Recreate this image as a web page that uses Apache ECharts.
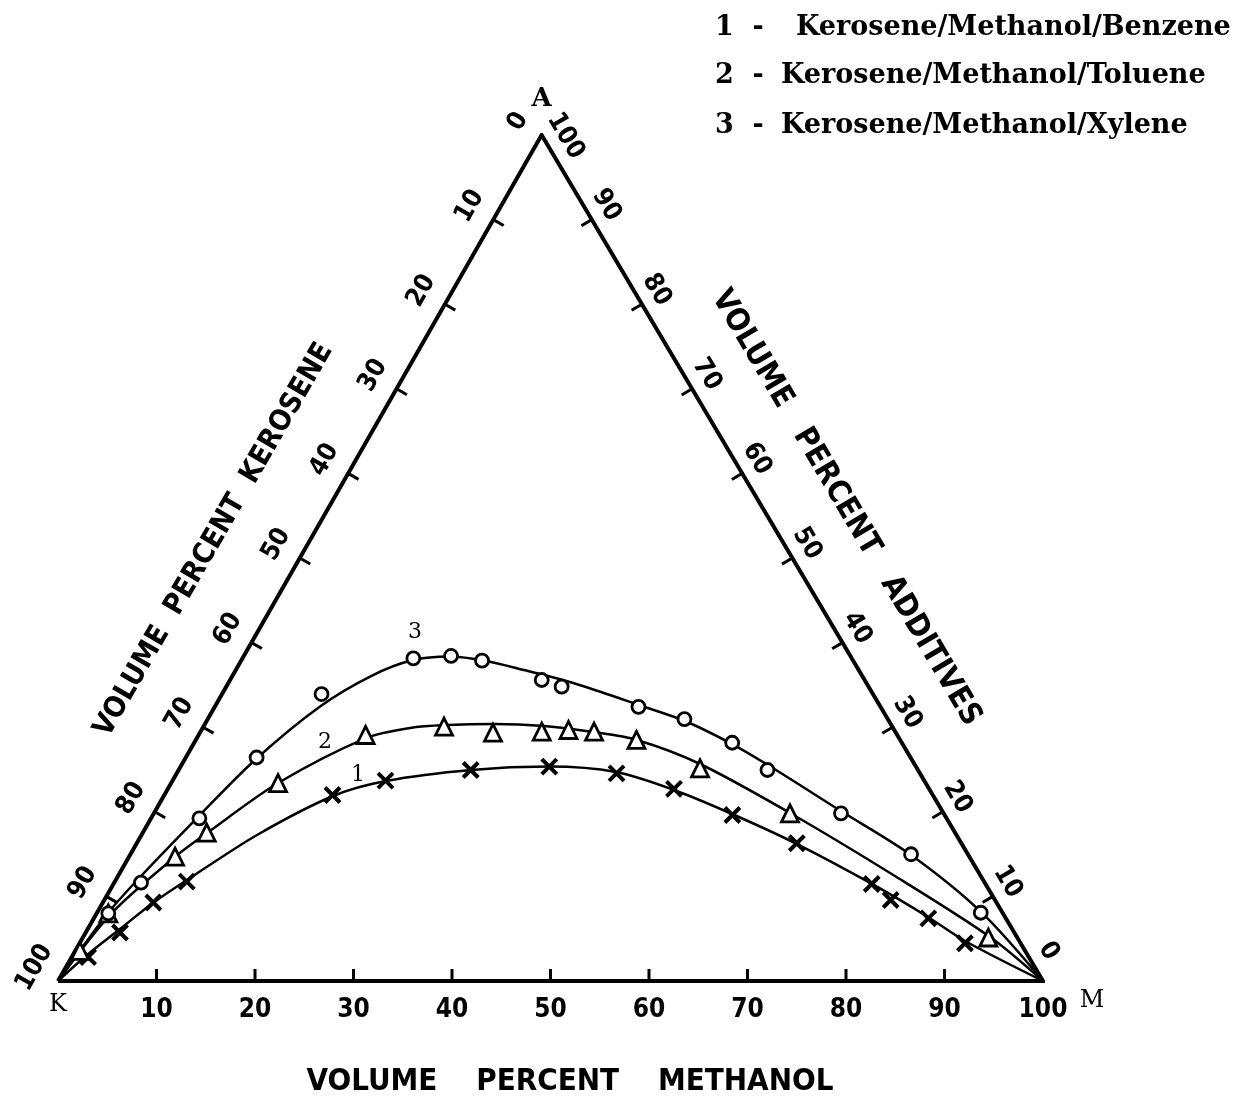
<!DOCTYPE html>
<html><head><meta charset="utf-8">
<script src="https://cdn.jsdelivr.net/npm/echarts@6/dist/echarts.min.js"></script>
<style>html,body{margin:0;padding:0;background:#fff}#chart{width:1250px;height:1111px}</style>
</head><body><div id="chart"></div>
<script>
// ---------- DATA (ternary compositions: [methanol %, additives %], kerosene = 100 - m - a) ----------
const seriesNames = ['Kerosene/Methanol/Benzene', 'Kerosene/Methanol/Toluene', 'Kerosene/Methanol/Xylene'];
const seriesNumbers = ['1', '2', '3'];

// measured points (markers)
const benzenePoints = [[1.66,2.84],[3.48,5.73],[5.12,9.28],[7.31,11.74],[17.07,21.99],[21.62,23.68],[29.66,24.94],[37.44,25.33],[44.65,24.55],[51.39,22.70],[58.83,19.62],[67.01,16.28],[76.98,11.47],[79.84,9.57],[84.72,7.41],[89.89,4.46]];
const toluenePoints = [[0.49,3.55],[1.18,8.0],[4.67,14.69],[6.49,17.53],[10.85,23.40],[16.95,29.08],[24.43,30.06],[29.75,29.35],[34.64,29.47],[37.26,29.67],[39.95,29.47],[44.74,28.49],[52.84,25.14],[64.58,19.82],[91.93,5.14]];
const xylenePoints = [[1.18,8.0],[2.72,11.62],[4.91,19.23],[7.19,26.42],[10.10,33.92],[17.35,38.14],[21.04,38.42],[24.46,37.86],[31.64,35.58],[34.05,34.79],[43.02,32.41],[48.40,30.95],[54.62,28.16],[59.78,24.94],[69.76,19.82],[79.25,14.98],[89.72,8.07]];

// binodal curves as drawn
const benzeneCurve = [[0,0],[1.43,3.07],[3.27,6.15],[5.11,9.22],[7.24,11.94],[11.73,17.26],[17.18,21.87],[21.69,23.64],[29.68,24.94],[37.40,25.35],[44.52,24.70],[51.45,22.58],[58.74,19.74],[67.08,16.19],[77.01,11.47],[84.60,7.57],[89.76,4.73],[100,0]];
const tolueneCurve = [[0,0],[1.53,8.04],[4.68,14.66],[6.54,17.49],[10.85,23.40],[17.17,28.72],[21.05,29.91],[24.73,30.26],[29.34,30.38],[34.54,30.14],[39.86,29.43],[44.79,28.49],[52.59,25.65],[64.56,19.86],[78.65,12.53],[92.07,5.20],[100,0]];
const xyleneCurve = [[0,0],[1.13,8.04],[2.34,12.41],[4.73,19.50],[7.22,26.24],[10.67,32.45],[14.08,36.05],[17.41,37.94],[20.97,38.36],[24.88,37.83],[29.26,36.76],[33.80,35.58],[38.36,34.16],[42.96,32.62],[48.56,30.73],[54.68,28.01],[59.54,25.53],[69.62,20.09],[79.29,14.89],[89.70,8.16],[100,0]];

// curve number labels (composition where the number sits)
const curveLabelPos = [[18.5,24.35],[13.24,28.25],[15.99,41.25]];

// axis ticks and tick labels
const tickValues = [10,20,30,40,50,60,70,80,90];
const bottomLabels = [10,20,30,40,50,60,70,80,90,100];
const sideLabels = [0,10,20,30,40,50,60,70,80,90,100];
const vertexNames = ['K','M','A'];
const axisTitles = ['VOLUME    PERCENT    METHANOL', 'VOLUME  PERCENT  KEROSENE', 'VOLUME   PERCENT   ADDITIVES'];

// ---------- LAYOUT ----------
const SKEW = 0.491;           // horizontal position of apex A as a fraction of the base
const TICK_LEN = 12;
const digitFont = 'bold 26px "DejaVu Sans Condensed", "Liberation Sans Narrow", "DejaVu Sans", sans-serif';
const titleFont = 'bold 31px "DejaVu Sans Condensed", "Liberation Sans Narrow", "DejaVu Sans", sans-serif';
const titleFontSmall = 'bold 29px "DejaVu Sans Condensed", "Liberation Sans Narrow", "DejaVu Sans", sans-serif';
const serifFont = 'bold 27px "DejaVu Serif", "Liberation Serif", serif';

function toXY(p){ return [p[0] + SKEW*p[1], p[1]]; }
// label offset [outward, toward A] per edge
function labelOffset(edge, text){
  if (edge === 0) return [29, 0];
  if (edge === 1) return [27, 0];
  return [20, 5 - (text.length - 2) * 18];
}

const tickData = [];
for (let e = 0; e < 3; e++) tickValues.forEach(v => tickData.push([e, v, 0]));
bottomLabels.forEach(v => tickData.push([0, v, 1]));
sideLabels.forEach(v => tickData.push([1, v, 1]));
sideLabels.forEach(v => tickData.push([2, v, 1]));

function renderTick(params, api){
  const edge = api.value(0), v = api.value(1), kind = api.value(2);
  const tern = edge === 0 ? [v,0] : edge === 1 ? [0,100-v] : [100-v, v];
  const p = api.coord(toXY(tern));
  const K = api.coord(toXY([0,0])), M = api.coord(toXY([100,0])), A = api.coord(toXY([0,100]));
  let s, t;
  if (edge === 0) { s = K; t = M; } else if (edge === 1) { s = K; t = A; } else { s = M; t = A; }
  let dx = t[0]-s[0], dy = t[1]-s[1];
  const L = Math.hypot(dx, dy); dx /= L; dy /= L;
  let nx = -dy, ny = dx;
  const cx = (K[0]+M[0]+A[0])/3, cy = (K[1]+M[1]+A[1])/3;
  if ((cx-p[0])*nx + (cy-p[1])*ny < 0) { nx = -nx; ny = -ny; }
  if (kind === 0) {
    return { type:'line', shape:{ x1:p[0], y1:p[1], x2:p[0]+nx*TICK_LEN, y2:p[1]+ny*TICK_LEN },
             style:{ stroke:'#000', lineWidth:3 } };
  }
  const text = String(v);
  const off = labelOffset(edge, text);
  const lx = p[0] - nx*off[0] + (edge === 0 ? 0 : dx*off[1]);
  const ly = p[1] - ny*off[0] + (edge === 0 ? 0 : dy*off[1]);
  let rot = 0;
  if (edge === 1) rot = Math.atan2(-dy, dx);
  if (edge === 2) rot = Math.atan2(dy, -dx);
  return { type:'text', x:lx, y:ly, rotation:rot,
           style:{ text:text, font:digitFont, fill:'#000', align:'center', verticalAlign:'middle' } };
}

const chart = echarts.init(document.getElementById('chart'), null, { renderer:'canvas' });
const markerStyle = { color:'#fff', borderColor:'#000', borderWidth:2.8, opacity:1 };
const option = {
  backgroundColor:'#fff',
  animation:false,
  grid:{ left:58, top:135, width:985, height:846 },
  xAxis:{ type:'value', min:0, max:100, show:false },
  yAxis:{ type:'value', min:0, max:100, show:false },
  series:[
    { type:'line', silent:true, symbol:'none', z:3,
      data:[[0,0],[100,0],[0,100],[0,0]].map(toXY),
      lineStyle:{ color:'#000', width:4, join:'miter' } },
    { type:'custom', silent:true, z:3, data:tickData, renderItem:renderTick },
    { type:'line', name:seriesNames[0], silent:true, symbol:'none', smooth:0.3, data:benzeneCurve.map(toXY), lineStyle:{ color:'#000', width:2.5 } },
    { type:'line', name:seriesNames[1], silent:true, symbol:'none', smooth:0.3, data:tolueneCurve.map(toXY), lineStyle:{ color:'#000', width:2.5 } },
    { type:'line', name:seriesNames[2], silent:true, symbol:'none', smooth:0.3, data:xyleneCurve.map(toXY), lineStyle:{ color:'#000', width:2.5 } },
    { type:'scatter', silent:true, z:5, symbol:'path://M0,0L10,10M10,0L0,10', symbolSize:15,
      data:benzenePoints.map(toXY), itemStyle:{ color:'#000', borderColor:'#000', borderWidth:4, opacity:1 } },
    { type:'scatter', silent:true, z:5, symbol:'triangle', symbolSize:17,
      data:toluenePoints.map(toXY), itemStyle:markerStyle },
    { type:'scatter', silent:true, z:5, symbol:'circle', symbolSize:13,
      data:xylenePoints.map(toXY), itemStyle:markerStyle },
    { type:'scatter', silent:true, z:6, symbolSize:1, itemStyle:{ color:'rgba(0,0,0,0)', opacity:1 },
      data:curveLabelPos.map((p,i) => ({ value:toXY(p), label:{ show:true, formatter:seriesNumbers[i], position:'inside',
        color:'#000', opacity:1, fontFamily:'"DejaVu Serif", serif', fontSize:22 } })) },
    { type:'scatter', silent:true, z:6, symbolSize:1, itemStyle:{ color:'rgba(0,0,0,0)', opacity:1 },
      data:[[0,0],[100,0],[0,100]].map((p,i) => ({ value:toXY(p), label:{ show:true, formatter:vertexNames[i], position:'inside',
        offset: i === 0 ? [0,24] : i === 1 ? [49,20] : [0,-36],
        color:'#000', opacity:1, fontFamily:'"DejaVu Serif", serif', fontSize: i === 2 ? 26 : 24, fontWeight: i === 2 ? 'bold' : 'normal' } })) }
  ],
  graphic:[
    { type:'text', x:570, y:1082, style:{ text:axisTitles[0], font:titleFont, fill:'#000', align:'center', verticalAlign:'middle' } },
    { type:'text', x:214, y:540, rotation:Math.PI/3, style:{ text:axisTitles[1], font:titleFontSmall, fill:'#000', align:'center', verticalAlign:'middle' } },
    { type:'text', x:846, y:508, rotation:-Math.PI*59.4/180, style:{ text:axisTitles[2], font:titleFont, fill:'#000', align:'center', verticalAlign:'middle' } },
    { type:'text', x:715, y:28, style:{ text:seriesNumbers[0] + '  -', font:serifFont, fill:'#000', verticalAlign:'middle' } },
    { type:'text', x:796, y:28, style:{ text:seriesNames[0], font:serifFont, fill:'#000', verticalAlign:'middle' } },
    { type:'text', x:715, y:76, style:{ text:seriesNumbers[1] + '  -', font:serifFont, fill:'#000', verticalAlign:'middle' } },
    { type:'text', x:781, y:76, style:{ text:seriesNames[1], font:serifFont, fill:'#000', verticalAlign:'middle' } },
    { type:'text', x:715, y:126, style:{ text:seriesNumbers[2] + '  -', font:serifFont, fill:'#000', verticalAlign:'middle' } },
    { type:'text', x:781, y:126, style:{ text:seriesNames[2], font:serifFont, fill:'#000', verticalAlign:'middle' } }
  ]
};
chart.setOption(option);
</script>
</body></html>
